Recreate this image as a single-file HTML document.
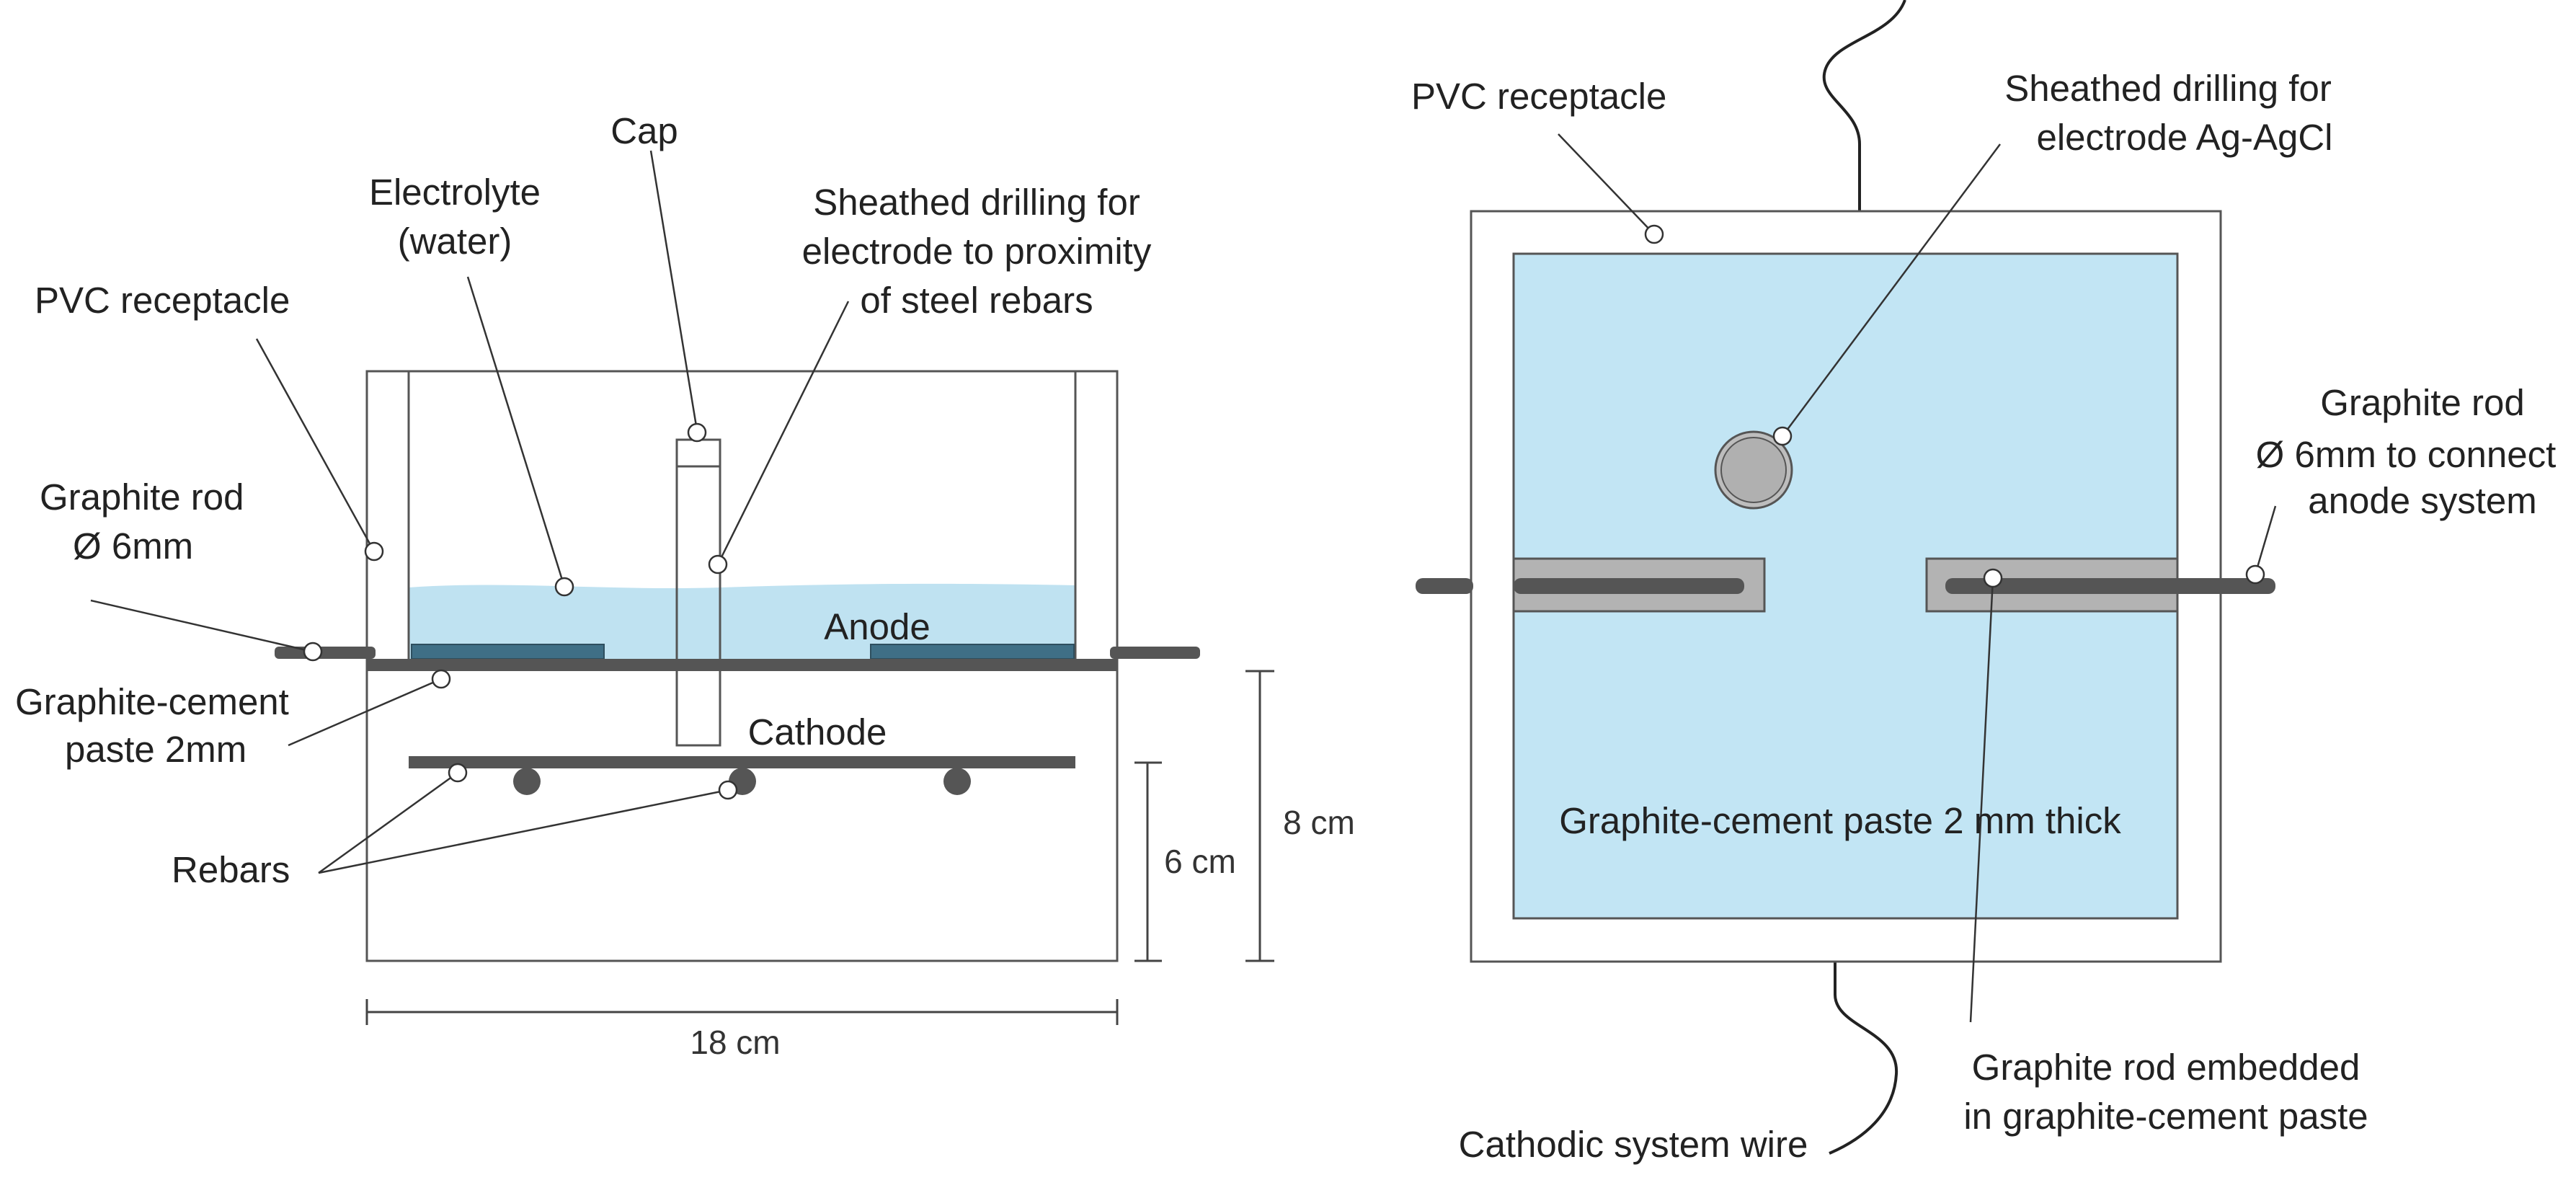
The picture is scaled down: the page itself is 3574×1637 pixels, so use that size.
<!DOCTYPE html>
<html><head><meta charset="utf-8"><style>
html,body{margin:0;padding:0;background:#fff;}
svg{display:block;}
text{font-family:"Liberation Sans",Arial,sans-serif;fill:#222;}
.l{font-size:51px;}
.d{font-size:46px;fill:#333;}
</style></head><body>
<svg width="3574" height="1637" viewBox="0 0 3574 1637" xmlns="http://www.w3.org/2000/svg">
<!-- LEFT DIAGRAM -->
<path d="M567 815 C700 805 850 820 1000 815 C1150 810 1300 808 1492 812 L1492 915 L567 915 Z" fill="#bfe2f1"/>
<rect x="509" y="515" width="1041" height="818" fill="none" stroke="#555" stroke-width="3"/>
<line x1="567" y1="515" x2="567" y2="915" stroke="#555" stroke-width="3"/>
<line x1="1492" y1="515" x2="1492" y2="915" stroke="#555" stroke-width="3"/>
<!-- graphite rod (outside parts) -->
<rect x="381" y="897" width="140" height="17" rx="6" fill="#555"/>
<rect x="1540" y="897" width="125" height="17" rx="6" fill="#555"/>
<!-- anode plates -->
<rect x="571" y="894" width="267" height="20" fill="#3f6f86" stroke="#2e4f5f" stroke-width="2"/>
<rect x="1208" y="894" width="282" height="20" fill="#3f6f86" stroke="#2e4f5f" stroke-width="2"/>
<!-- paste line -->
<rect x="509" y="914" width="1041" height="17" fill="#555"/>
<!-- tube & cap -->
<rect x="939" y="647" width="60" height="387" fill="none" stroke="#555" stroke-width="3"/>
<rect x="939" y="610" width="60" height="37" fill="#fff" stroke="#555" stroke-width="3"/>
<!-- cathode bar -->
<rect x="567" y="1049" width="925" height="17" fill="#555"/>
<circle cx="731" cy="1084" r="19" fill="#555"/>
<circle cx="1030" cy="1084" r="19" fill="#555"/>
<circle cx="1328" cy="1084" r="19" fill="#555"/>
<g stroke="#333" stroke-width="2.5" fill="none">
<line x1="903" y1="209" x2="967" y2="597"/>
<line x1="649" y1="384" x2="783" y2="814"/>
<line x1="1177" y1="418" x2="996" y2="783"/>
<line x1="356" y1="470" x2="519" y2="765"/>
<line x1="126" y1="833" x2="434" y2="904"/>
<line x1="400" y1="1034" x2="612" y2="942"/>
<line x1="442" y1="1211" x2="635" y2="1072"/>
<line x1="442" y1="1211" x2="1010" y2="1096"/>
</g>
<g fill="#fff" stroke="#333" stroke-width="2.5">
<circle cx="967" cy="600" r="12"/>
<circle cx="783" cy="814" r="12"/>
<circle cx="996" cy="783" r="12"/>
<circle cx="519" cy="765" r="12"/>
<circle cx="434" cy="904" r="12"/>
<circle cx="612" cy="942" r="12"/>
<circle cx="635" cy="1072" r="12"/>
<circle cx="1010" cy="1096" r="12"/>
</g>
<g stroke="#444" stroke-width="3">
<line x1="509" y1="1404" x2="1550" y2="1404"/>
<line x1="509" y1="1386" x2="509" y2="1422"/>
<line x1="1550" y1="1386" x2="1550" y2="1422"/>
<line x1="1592" y1="1058" x2="1592" y2="1333"/>
<line x1="1574" y1="1058" x2="1612" y2="1058"/>
<line x1="1574" y1="1333" x2="1612" y2="1333"/>
<line x1="1748" y1="931" x2="1748" y2="1333"/>
<line x1="1728" y1="931" x2="1768" y2="931"/>
<line x1="1728" y1="1333" x2="1768" y2="1333"/>
</g>
<text class="d" x="1020" y="1462" text-anchor="middle">18 cm</text>
<text class="d" x="1665" y="1211" text-anchor="middle">6 cm</text>
<text class="d" x="1830" y="1157" text-anchor="middle">8 cm</text>
<text class="l" x="894" y="199" text-anchor="middle">Cap</text>
<text class="l" x="631" y="284" text-anchor="middle">Electrolyte</text>
<text class="l" x="631" y="352" text-anchor="middle">(water)</text>
<text class="l" x="1355" y="298" text-anchor="middle">Sheathed drilling for</text>
<text class="l" x="1355" y="366" text-anchor="middle">electrode to proximity</text>
<text class="l" x="1355" y="434" text-anchor="middle">of steel rebars</text>
<text class="l" x="48" y="434">PVC receptacle</text>
<text class="l" x="55" y="707">Graphite rod</text>
<text class="l" x="101" y="775">Ø 6mm</text>
<text class="l" x="21" y="991">Graphite-cement</text>
<text class="l" x="90" y="1057">paste 2mm</text>
<text class="l" x="238" y="1224">Rebars</text>
<text class="l" x="1217" y="887" text-anchor="middle">Anode</text>
<text class="l" x="1134" y="1033" text-anchor="middle">Cathode</text>

<!-- RIGHT DIAGRAM -->
<path d="M2580 293 L2580 200 C2580 150 2518 135 2533 95 C2548 55 2625 50 2643 0" fill="none" stroke="#222" stroke-width="4"/>
<path d="M2546 1334 L2546 1380 C2546 1425 2635 1430 2631 1490 C2628 1545 2585 1580 2538 1600" fill="none" stroke="#222" stroke-width="4"/>
<rect x="2041" y="293" width="1040" height="1041" fill="#fff" stroke="#555" stroke-width="3"/>
<rect x="2100" y="352" width="921" height="922" fill="#c2e5f4" stroke="#555" stroke-width="3"/>
<rect x="1964" y="802" width="80" height="22" rx="10" fill="#555"/>
<rect x="2100" y="775" width="348" height="73" fill="#b3b3b3" stroke="#555" stroke-width="3"/>
<rect x="2100" y="802" width="320" height="22" rx="10" fill="#555"/>
<rect x="2673" y="775" width="348" height="73" fill="#b3b3b3" stroke="#555" stroke-width="3"/>
<rect x="2699" y="802" width="458" height="22" rx="10" fill="#555"/>
<circle cx="2433" cy="652" r="53" fill="#bdbdbd" stroke="#555" stroke-width="3"/>
<circle cx="2433" cy="652" r="45" fill="#b0b0b0" stroke="#555" stroke-width="2"/>
<g stroke="#333" stroke-width="2.5" fill="none">
<line x1="2162" y1="186" x2="2295" y2="325"/>
<line x1="2775" y1="200" x2="2473" y2="605"/>
<line x1="3157" y1="702" x2="3129" y2="797"/>
<line x1="2765" y1="802" x2="2734" y2="1418"/>
</g>
<g fill="#fff" stroke="#333" stroke-width="2.5">
<circle cx="2295" cy="325" r="12"/>
<circle cx="2473" cy="605" r="12"/>
<circle cx="3129" cy="797" r="12"/>
<circle cx="2765" cy="802" r="12"/>
</g>
<text class="l" x="1958" y="151">PVC receptacle</text>
<text class="l" x="3008" y="140" text-anchor="middle">Sheathed drilling for</text>
<text class="l" x="3031" y="208" text-anchor="middle">electrode Ag-AgCl</text>
<text class="l" x="3361" y="576" text-anchor="middle">Graphite rod</text>
<text class="l" x="3338" y="648" text-anchor="middle">Ø 6mm to connect</text>
<text class="l" x="3361" y="712" text-anchor="middle">anode system</text>
<text class="l" x="2553" y="1156" text-anchor="middle">Graphite-cement paste 2 mm thick</text>
<text class="l" x="3005" y="1498" text-anchor="middle">Graphite rod embedded</text>
<text class="l" x="3005" y="1566" text-anchor="middle">in graphite-cement paste</text>
<text class="l" x="2266" y="1605" text-anchor="middle">Cathodic system wire</text>
</svg>
</body></html>
